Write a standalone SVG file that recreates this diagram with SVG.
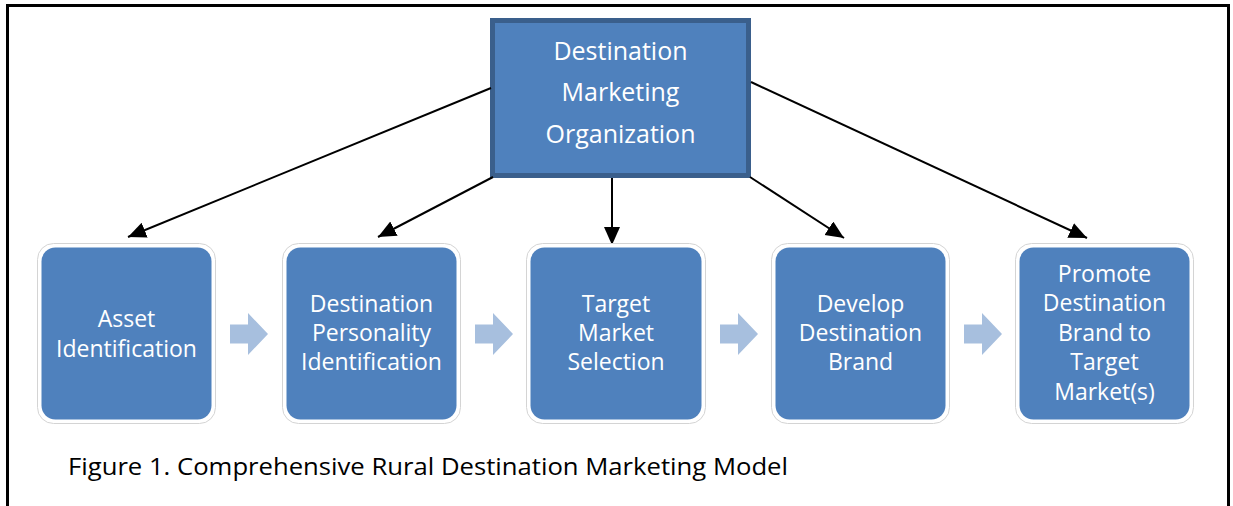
<svg xmlns="http://www.w3.org/2000/svg" width="1233" height="506" viewBox="0 0 1233 506">
  <style>
    .frame { fill: none; stroke: #000; stroke-width: 3; }
    .outer { fill: #fff; stroke: #d4d4d4; stroke-width: 1; }
    .inner { fill: #4F81BD; }
    .txt { font-family: "Open Sans", "Noto Sans", sans-serif; font-size: 23px; fill: #fff; text-anchor: middle; }
    .ttl { font-family: "Open Sans", "Noto Sans", sans-serif; font-size: 25px; fill: #fff; text-anchor: middle; }
    .cap { font-family: "Open Sans", "Noto Sans", sans-serif; font-size: 24px; fill: #000; }
    .conn { stroke: #000; stroke-width: 2; fill: none; marker-end: url(#ah); }
    .chev { fill: #A7BFDE; }
  </style>
  <defs>
    <marker id="ah" markerUnits="userSpaceOnUse" markerWidth="22" markerHeight="22" refX="18" refY="8" orient="auto">
      <path d="M0,0 L18,8 L0,16 Z" fill="#000"/>
    </marker>
    <path id="chevron" d="M0,-9.5 H18 V-21 L38,0 L18,21 V9.5 H0 Z"/>
  </defs>

  <path class="frame" d="M7.5,506 V5.5 H1228.5 V506"/>

  <g id="dmo">
    <rect x="492.5" y="20.5" width="256" height="155" fill="#4F81BD" stroke="#3A5F8C" stroke-width="5"/>
    <text class="ttl" x="620.5" y="60">Destination</text>
    <text class="ttl" x="620.5" y="101">Marketing</text>
    <text class="ttl" x="620.5" y="143">Organization</text>
  </g>

  <g id="connectors">
    <line class="conn" x1="491" y1="88" x2="128" y2="237"/>
    <line class="conn" x1="493" y1="177" x2="378" y2="237"/>
    <line class="conn" x1="612" y1="178" x2="612" y2="245"/>
    <line class="conn" x1="750" y1="177" x2="844" y2="238"/>
    <line class="conn" x1="751" y1="82" x2="1087" y2="238"/>
    <use href="#chevron" class="chev" x="230" y="334"/>
    <use href="#chevron" class="chev" x="475" y="334"/>
    <use href="#chevron" class="chev" x="720" y="334"/>
    <use href="#chevron" class="chev" x="964" y="334"/>
  </g>

  <g id="asset">
    <rect class="outer" x="37.5" y="243.5" width="178" height="180" rx="16"/>
    <rect class="inner" x="41.5" y="247.5" width="170" height="172" rx="14"/>
    <text class="txt" x="126.5" y="327">Asset</text>
    <text class="txt" x="126.5" y="357">Identification</text>
  </g>

  <g id="personality">
    <rect class="outer" x="282.5" y="243.5" width="178" height="180" rx="16"/>
    <rect class="inner" x="286.5" y="247.5" width="170" height="172" rx="14"/>
    <text class="txt" x="371.5" y="312">Destination</text>
    <text class="txt" x="371.5" y="341">Personality</text>
    <text class="txt" x="371.5" y="370">Identification</text>
  </g>

  <g id="target">
    <rect class="outer" x="526.5" y="243.5" width="179" height="180" rx="16"/>
    <rect class="inner" x="530.5" y="247.5" width="171" height="172" rx="14"/>
    <text class="txt" x="616" y="312">Target</text>
    <text class="txt" x="616" y="341">Market</text>
    <text class="txt" x="616" y="370">Selection</text>
  </g>

  <g id="brand">
    <rect class="outer" x="771.5" y="243.5" width="178" height="180" rx="16"/>
    <rect class="inner" x="775.5" y="247.5" width="170" height="172" rx="14"/>
    <text class="txt" x="860.5" y="312">Develop</text>
    <text class="txt" x="860.5" y="341">Destination</text>
    <text class="txt" x="860.5" y="370">Brand</text>
  </g>

  <g id="promote">
    <rect class="outer" x="1015.5" y="243.5" width="178" height="180" rx="16"/>
    <rect class="inner" x="1019.5" y="247.5" width="170" height="172" rx="14"/>
    <text class="txt" x="1104.5" y="282">Promote</text>
    <text class="txt" x="1104.5" y="311">Destination</text>
    <text class="txt" x="1104.5" y="341">Brand to</text>
    <text class="txt" x="1104.5" y="370">Target</text>
    <text class="txt" x="1104.5" y="400">Market(s)</text>
  </g>

  <text class="cap" x="68" y="475" textLength="720" lengthAdjust="spacingAndGlyphs">Figure 1. Comprehensive Rural Destination Marketing Model</text>
</svg>
